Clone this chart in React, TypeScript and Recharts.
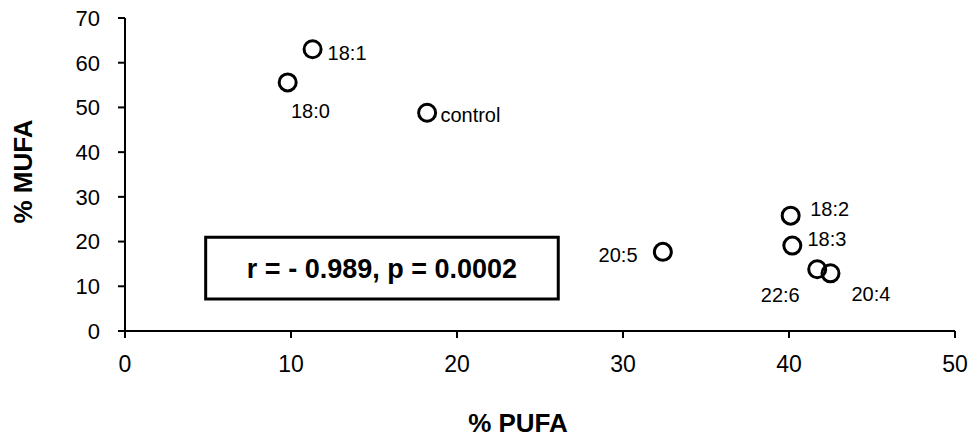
import { ScatterChart, Scatter, XAxis, YAxis, ReferenceArea } from 'recharts';

const names = ['18:1', '18:0', 'control', '20:5', '18:2', '18:3', '22:6', '20:4'];
const pufa = [11.3, 9.8, 18.2, 32.4, 40.1, 40.2, 41.7, 42.5];
const mufa = [63.0, 55.6, 48.8, 17.7, 25.8, 19.1, 13.8, 12.9];

const xTicks = [0, 10, 20, 30, 40, 50];
const yTicks = [0, 10, 20, 30, 40, 50, 60, 70];

const statText = 'r = - 0.989, p = 0.0002';
// stats box extent in data units
const boxX = [4.86, 26.1];
const boxY = [7.16, 20.96];

// where each point's label sits relative to the marker
const labelPlace: Record<string, { dx: number; dy: number; anchor: 'start' | 'end' }> = {
  '18:1': { dx: 15, dy: 3.4, anchor: 'start' },
  '18:0': { dx: 3.3, dy: 28.4, anchor: 'start' },
  control: { dx: 13.3, dy: 2.5, anchor: 'start' },
  '20:5': { dx: -25.3, dy: 3.3, anchor: 'end' },
  '18:2': { dx: 19.5, dy: -7, anchor: 'start' },
  '18:3': { dx: 15.1, dy: -6.8, anchor: 'start' },
  '22:6': { dx: -17.5, dy: 25.9, anchor: 'end' },
  '20:4': { dx: 20.9, dy: 20.8, anchor: 'start' },
};

const font = '"Liberation Sans", Arial, sans-serif';

const points = names.map((name, i) => ({ name, x: pufa[i], y: mufa[i] }));

function Marker(props: any) {
  const { cx, cy, payload } = props;
  const p = labelPlace[payload.name];
  return (
    <g>
      <circle cx={cx} cy={cy} r={8.5} fill="none" stroke="#000" strokeWidth={3} />
      <text
        x={cx + p.dx}
        y={cy + p.dy}
        dy="0.355em"
        textAnchor={p.anchor}
        fontSize={20}
        fontFamily={font}
        fill="#000"
      >
        {payload.name}
      </text>
    </g>
  );
}

const mufaLabel = (props: any) => {
  const vb = props.viewBox;
  const x = vb.x + 32;
  const y = vb.y + vb.height / 2 - 3;
  return (
    <text x={x} y={y} transform={`rotate(-90, ${x}, ${y})`} textAnchor="middle" fontSize={26} fontWeight="bold" fontFamily={font} fill="#000">
      % MUFA
    </text>
  );
};

const pufaLabel = (props: any) => {
  const vb = props.viewBox;
  return (
    <text x={vb.x + vb.width / 2 - 22} y={vb.y + 101} textAnchor="middle" fontSize={26} fontWeight="bold" fontFamily={font} fill="#000">
      % PUFA
    </text>
  );
};

export default function App() {
  return (
    <div style={{ position: 'absolute', left: 0, top: 0, background: '#fff' }}>
      <ScatterChart width={969} height={439} margin={{ top: 18, right: 14, left: 0, bottom: 48 }}>
        <XAxis
          type="number"
          dataKey="x"
          domain={[0, 50]}
          ticks={xTicks}
          interval={0}
          height={60}
          tickSize={7}
          tickMargin={18}
          axisLine={{ stroke: '#000', strokeWidth: 2 }}
          tickLine={{ stroke: '#000', strokeWidth: 2 }}
          tick={{ fill: '#000', fontSize: 23, fontFamily: font }}
          label={{ content: pufaLabel }}
        />
        <YAxis
          type="number"
          dataKey="y"
          domain={[0, 70]}
          ticks={yTicks}
          interval={0}
          width={125}
          tickSize={7}
          tickMargin={18}
          axisLine={{ stroke: '#000', strokeWidth: 2 }}
          tickLine={{ stroke: '#000', strokeWidth: 2 }}
          tick={{ fill: '#000', fontSize: 22, fontFamily: font }}
          label={{ content: mufaLabel }}
        />
        <ReferenceArea
          x1={boxX[0]}
          x2={boxX[1]}
          y1={boxY[0]}
          y2={boxY[1]}
          fill="#fff"
          fillOpacity={1}
          stroke="#000"
          strokeWidth={3}
          label={{ value: statText, position: 'center', fontSize: 27, fontWeight: 'bold', fontFamily: font, fill: '#000' }}
        />
        <Scatter data={points} shape={Marker} isAnimationActive={false} />
      </ScatterChart>
    </div>
  );
}
